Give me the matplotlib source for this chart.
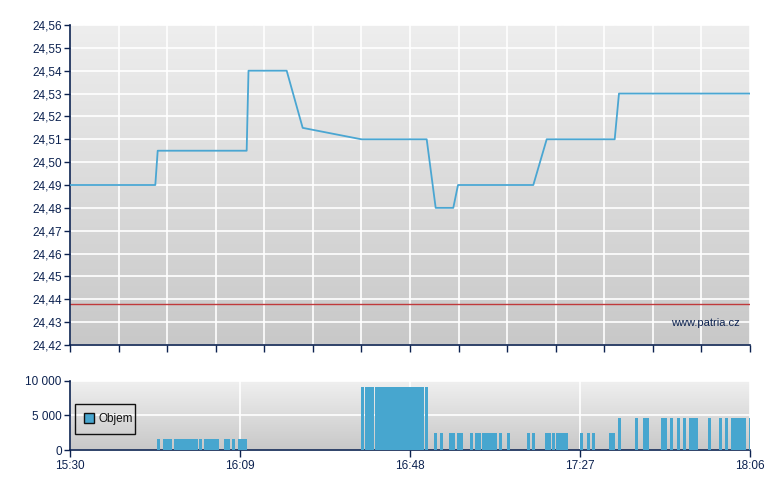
import numpy as np
import matplotlib
matplotlib.use("Agg")
import matplotlib.pyplot as plt
from matplotlib.patches import Patch
from matplotlib.ticker import FixedLocator, FuncFormatter

plt.rcParams['font.family'] = ['Liberation Sans', 'DejaVu Sans']

# ---- data (minutes after 15:30) ----
price_t = [0, 19.57, 20.12, 40.53, 40.95, 49.71, 53.38, 66.83, 81.83, 83.89,
           87.93, 89.01, 106.29, 109.36, 124.96, 125.94, 156]
price_v = [24.49, 24.49, 24.505, 24.505, 24.54, 24.54, 24.515, 24.51, 24.51, 24.48,
           24.48, 24.49, 24.49, 24.51, 24.51, 24.53, 24.53]
prev_close = 24.438

vol_t = [19.96,
         21.34, 22.04, 22.74,
         23.86, 24.56, 25.26, 25.96, 26.66, 27.36, 28.06, 28.76,
         29.59,
         30.74, 31.44, 32.14, 32.84, 33.54,
         35.33, 36.03,
         37.16,
         38.54, 39.24, 39.94,
         66.76,
         67.67, 68.37, 69.07,
         69.97, 70.67, 71.37, 72.07, 72.77, 73.47, 74.17, 74.87,
         75.57, 76.27, 76.97, 77.67, 78.37, 79.07, 79.77, 80.47,
         81.44,
         83.50, 84.88, 86.95, 87.65, 88.78, 89.48, 91.76, 92.91, 93.61,
         94.52, 95.22, 95.92, 96.62, 97.32,
         98.42, 100.25, 104.84, 105.99, 108.97, 109.67, 110.57,
         111.49, 112.19, 112.89, 113.59,
         117.00, 118.60, 119.75, 123.65, 124.35,
         125.71, 129.61, 131.45, 132.15, 135.58, 136.28, 137.65, 139.26, 140.63,
         142.00, 142.70, 143.40, 146.36, 148.88, 150.26,
         151.64, 152.34, 153.04, 153.74, 154.44, 155.77]
vol_v = ([1600] * 24 + [9100] * 21 + [2500] * 30 + [4600] * 21)

tick_labels = ['15:30', '16:09', '16:48', '17:27', '18:06']
tick_pos = [0, 39, 78, 117, 156]

# ---- styles ----
navy = '#0c2250'
line_c = '#4aa6d2'
bar_c = '#47a6cf'
red_c = '#c0393b'

fig = plt.figure(figsize=(7.8, 4.9), dpi=100)
W, H = 780, 490
ax = fig.add_axes([70 / W, (H - 345) / H, 680 / W, 320 / H])
axv = fig.add_axes([70 / W, (H - 450) / H, 680 / W, 69.3 / H])


def gradient(a, top, bottom):
    g = np.linspace(top, bottom, 256) / 255.0
    img = np.dstack([g, g, g]).reshape(256, 1, 3)
    a.imshow(img, extent=[0, 1, 0, 1], transform=a.transAxes, aspect='auto',
             zorder=0, interpolation='bilinear')


for a in (ax, axv):
    for s in ('top', 'right'):
        a.spines[s].set_visible(False)
    for s in ('left', 'bottom'):
        a.spines[s].set_color(navy)
        a.spines[s].set_linewidth(1.2)
    a.tick_params(colors=navy, labelcolor=navy, labelsize=8.5, length=4, width=1,
                  direction='out', pad=2)
    a.set_axisbelow(True)

gradient(ax, 238, 200)
gradient(axv, 240, 200)

# ---- price chart ----
ax.plot(price_t, price_v, color=line_c, lw=1.3, zorder=3)
ax.axhline(prev_close, color=red_c, lw=1.0, zorder=2)
ax.set_xlim(0, 156)
ax.set_ylim(24.42, 24.56)
yt = np.round(np.arange(24.42, 24.5601, 0.01), 2)
ax.yaxis.set_major_locator(FixedLocator(yt))
ax.yaxis.set_major_formatter(FuncFormatter(lambda v, p: f'{v:.2f}'.replace('.', ',')))
ax.xaxis.set_major_locator(FixedLocator([k * 156 / 14 for k in range(15)]))
ax.set_xticklabels([])
ax.tick_params(axis='x', length=5)
ax.grid(True, color='white', lw=1.2)
ax.text(0.985, 0.07, 'www.patria.cz', transform=ax.transAxes, ha='right', va='center',
        color=navy, fontsize=8, zorder=4)

# ---- volume chart ----
axv.bar(vol_t, vol_v, width=0.7, align='edge', color=bar_c, lw=0, zorder=3)
axv.set_xlim(0, 156)
axv.set_ylim(0, 10000)
axv.yaxis.set_major_locator(FixedLocator([0, 5000, 10000]))
axv.yaxis.set_major_formatter(FuncFormatter(lambda v, p: f'{int(v):,}'.replace(',', ' ')))
axv.xaxis.set_major_locator(FixedLocator(tick_pos))
axv.set_xticklabels(tick_labels)
axv.tick_params(axis='x', length=5)
axv.grid(True, color='white', lw=1.2)

leg = axv.legend(handles=[Patch(facecolor=bar_c, edgecolor='#111111', lw=1, label='Objem')],
                 loc='center left', bbox_to_anchor=(0.007, 0.447, 0.089, 0.0), mode='expand',
                 fontsize=8.5, frameon=True, fancybox=False,
                 handlelength=0.9, handleheight=0.9, handletextpad=0.35,
                 borderpad=0.75, borderaxespad=0)
frame = leg.get_frame()
frame.set_facecolor('none')
frame.set_edgecolor('#111111')
frame.set_linewidth(1)
frame.set_alpha(None)
for t in leg.get_texts():
    t.set_color('#111111')

fig.savefig('out.png', dpi=100)
